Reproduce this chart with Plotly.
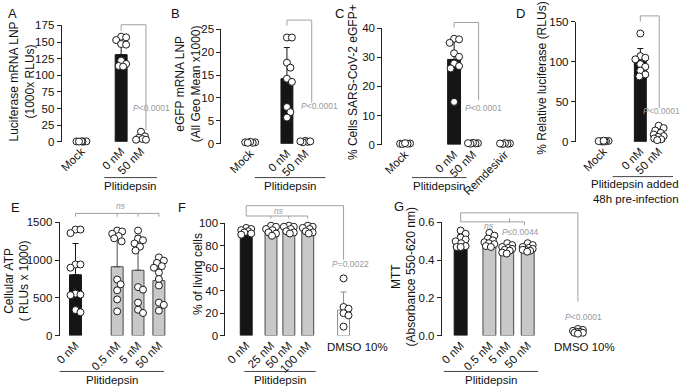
import plotly.graph_objects as go

W, H = 685, 392
FONT = "Liberation Sans, Arial, Helvetica, sans-serif"

# ---------------- DATA ----------------
# Panel A
A_labels = ["Mock", "0 nM", "50 nM"]
A_means = [0.4, 131, 6]
A_sd = [0, 18, 4]
A_mock = [0.3, 0.5, 0.2, 0.4, 0.6, 0.3]
A_0nM = [158, 157, 153, 147, 146, 122, 117, 114, 113]
A_50nM = [15, 8, 6, 4, 3, 3]

# Panel B
B_labels = ["Mock", "0 nM", "50 nM"]
B_means = [0.3, 14.2, 0.5]
B_sd = [0, 6.8, 0.2]
B_mock = [0.3, 0.2, 0.4, 0.3, 0.2]
B_0nM = [23.2, 23.2, 17.7, 16.6, 14.2, 13.5, 8.0, 6.9, 5.7]
B_50nM = [0.6, 0.4, 0.5, 0.3, 0.5]

# Panel C
C_labels = ["Mock", "0 nM", "50 nM", "Remdesivir"]
C_means = [0.3, 29.3, 0.5, 0.4]
C_sd = [0, 6.5, 0.1, 0.1]
C_mock = [0.3, 0.4, 0.2, 0.3, 0.5]
C_0nM = [36.4, 36.2, 35.0, 31.4, 30.2, 27.9, 27.0, 26.2, 14.7]
C_50nM = [0.5, 0.4, 0.6, 0.3, 0.5]
C_remd = [0.4, 0.3, 0.5, 0.2, 0.4]

# Panel D
D_labels = ["Mock", "0 nM", "50 nM"]
D_means = [0.6, 100.8, 9.3]
D_sd = [0, 15.5, 5]
D_mock = [0.5, 1.0, 0.3, 0.8, 0.6, 0.4, 1.2]
D_0nM = [135, 106.8, 104.8, 102.8, 96.8, 93.5, 88.7, 83.9, 81.5]
D_50nM = [20, 17, 14, 11, 9, 7, 6, 4, 3, 2]

# Panel E
E_labels = ["0 nM", "0.5 nM", "5 nM", "50 nM"]
E_means = [806, 913, 866, 729]
E_sd = [415, 424, 463, 257]
E_0nM = [1406, 1406, 1359, 943, 943, 900, 557, 544, 536, 339, 309]
E_05nM = [1393, 1380, 1350, 1320, 1290, 1250, 743, 680, 600, 480, 321]
E_5nM = [1393, 1286, 1264, 1221, 1179, 1127, 643, 609, 437, 343, 300]
E_50nM = [1037, 994, 964, 921, 900, 836, 750, 664, 437, 407, 330]

# Panel F
F_labels = ["0 nM", "25 nM", "50 nM", "100 nM", ""]
F_means = [91, 93.5, 94.5, 94, 22.8]
F_sd = [2, 3, 3, 3, 16]
F_0nM = [96, 95, 94, 93, 92, 91, 90]
F_25nM = [98, 97, 95, 94, 92, 91, 89]
F_50nM = [98, 97, 97, 95, 93, 92, 91]
F_100nM = [98, 97, 96, 95, 93, 92, 91]
F_dmso = [51, 25.5, 24, 20, 18, 8]

# Panel G
G_labels = ["0 nM", "0.5 nM", "5 nM", "50 nM", ""]
G_means = [0.506, 0.50, 0.463, 0.458, 0.02]
G_sd = [0.03, 0.025, 0.02, 0.015, 0.008]
G_0nM = [0.557, 0.54, 0.52, 0.51, 0.50, 0.49, 0.475, 0.47, 0.47]
G_05nM = [0.545, 0.53, 0.515, 0.505, 0.495, 0.49, 0.485, 0.475, 0.47]
G_5nM = [0.49, 0.48, 0.47, 0.465, 0.46, 0.455, 0.45, 0.44, 0.435]
G_50nM = [0.49, 0.48, 0.47, 0.465, 0.46, 0.455, 0.455, 0.45, 0.445]
G_dmso = [0.035, 0.03, 0.025, 0.02, 0.02, 0.015, 0.015, 0.01]

# ---------------- LAYOUT SPECS (pixels) ----------------
STYLES = {
    "k": ("#151515", "#151515", "#151515"),
    "g": ("#c8c8c8", "#4a4a4a", "#4a4a4a"),
    "w": ("#ffffff", "#8a8a8a", "#8a8a8a"),
}

panels = [
    dict(letter="A", lx=8, ly=8, ax=57, right=160, y0=140, ytop=20, ymax=175, dtick=25, fmt="d",
         pos0=77, ppu=20, pos=[0, 2, 3], bw=12,
         labels=A_labels, means=A_means, sd=A_sd, pts=[A_mock, A_0nM, A_50nM], st="kkk",
         ytitle="Luciferase mRNA LNP<br>(1000x RLUs)", tx=17, ty=78),
    dict(letter="B", lx=172, ly=8, ax=218, right=330, y0=142, ytop=24, ymax=25, dtick=5, fmt="d",
         pos0=247, ppu=18.5, pos=[0, 2, 3], bw=12,
         labels=B_labels, means=B_means, sd=B_sd, pts=[B_mock, B_0nM, B_50nM], st="kkk",
         ytitle="eGFP mRNA LNP<br>(All Geo Mean x1000)", tx=184, ty=80),
    dict(letter="C", lx=337, ly=8, ax=380, right=520, y0=143, ytop=23, ymax=40, dtick=10, fmt="d",
         pos0=403, ppu=19, pos=[0, 2.6, 3.6, 5.3], bw=13,
         labels=C_labels, means=C_means, sd=C_sd, pts=[C_mock, C_0nM, C_50nM, C_remd], st="kkkk",
         ytitle="% Cells SARS-CoV-2 eGFP+", tx=350, ty=78),
    dict(letter="D", lx=519, ly=8, ax=575, right=683, y0=140, ytop=16, ymax=150, dtick=50, fmt="d",
         pos0=603, ppu=18.5, pos=[0, 2, 3], bw=12,
         labels=D_labels, means=D_means, sd=D_sd, pts=[D_mock, D_0nM, D_50nM], st="kkk",
         ytitle="% Relative luciferase (RLUs)", tx=541, ty=75),
    dict(letter="E", lx=11, ly=208, ax=55, right=168, y0=340, ytop=223.3, ymax=1500, dtick=500, fmt="d",
         pos0=71, ppu=21, pos=[0, 2, 3, 4], bw=12,
         labels=E_labels, means=E_means, sd=E_sd, pts=[E_0nM, E_05nM, E_5nM, E_50nM], st="kggg",
         ytitle="Cellular ATP<br>( RLUs x 1000)", tx=12, ty=283),
    dict(letter="F", lx=178, ly=208, ax=222, right=360, y0=340, ytop=224.3, ymax=100, dtick=20, fmt="d",
         pos0=243, ppu=18.5, pos=[0, 1.35, 2.32, 3.35, 5.3], bw=12,
         labels=F_labels, means=F_means, sd=F_sd, pts=[F_0nM, F_25nM, F_50nM, F_100nM, F_dmso], st="kgggw",
         ytitle="% of living cells", tx=194, ty=277),
    dict(letter="G", lx=397, ly=207, ax=440, right=605, y0=340, ytop=223.3, ymax=0.6, dtick=0.2, fmt=".1f",
         pos0=459, ppu=19.3, pos=[0, 1.5, 2.43, 3.5, 6.12], bw=13,
         labels=G_labels, means=G_means, sd=G_sd, pts=[G_0nM, G_05nM, G_5nM, G_50nM, G_dmso], st="kgggw",
         ytitle="MTT<br>(Absorbance 550-620 nm)", tx=402, ty=280),
]

# brackets: segments in (category position, value); texts (text, x, value, xanchor)
brackets = [
    dict(segs=[((2, 167), (2, 176)), ((2, 176), (3.25, 176)), ((3.25, 176), (3.25, 17))],
         texts=[("<i>P</i>&lt;0.0001", 3.55, 51, "center")]),
    dict(segs=[((2, 25.8), (2, 27)), ((2, 27), (3.35, 27)), ((3.35, 27), (3.35, 9))],
         texts=[("<i>P</i>&lt;0.0001", 3.75, 8.2, "center")]),
    dict(segs=[((2.6, 40.3), (2.6, 42)), ((2.6, 42), (3.9, 42)), ((3.9, 42), (3.9, 15.3))],
         texts=[("<i>P</i>&lt;0.0001", 4.15, 12.7, "center")]),
    dict(segs=[((2, 150), (2, 157)), ((2, 157), (3.03, 157)), ((3.03, 157), (3.03, 42))],
         texts=[("<i>P</i>&lt;0.0001", 4.25, 38.7, "right")]),
    dict(segs=[((0, 1620), (4, 1620)), ((0, 1620), (0, 1577)), ((2, 1620), (2, 1577)),
               ((3, 1620), (3, 1577)), ((4, 1620), (4, 1577))],
         texts=[("<i>ns</i>", 2.2, 1720, "center")]),
    dict(segs=[((0, 106.6), (0, 115.8)), ((0, 115.8), (5.3, 115.8)), ((5.3, 115.8), (5.3, 67.7)),
               ((0, 106.6), (3.35, 106.6)), ((1.35, 106.6), (1.35, 104.3)),
               ((2.32, 106.6), (2.32, 104.3)), ((3.35, 106.6), (3.35, 104.3))],
         texts=[("<i>ns</i>", 1.8, 111.3, "center"), ("<i>P</i>=0.0022", 5.7, 63.5, "center")]),
    dict(segs=[((0, 0.603), (0, 0.651)), ((0, 0.651), (6.12, 0.651)), ((6.12, 0.651), (6.12, 0.18)),
               ((0, 0.603), (3.33, 0.603)), ((3.33, 0.603), (3.33, 0.586)),
               ((2.55, 0.603), (2.55, 0.622))],
         texts=[("<i>ns</i>", 1.5, 0.58, "center"), ("<i>P</i>≤0.0044", 3.1, 0.552, "center"),
                ("<i>P</i>&lt;0.0001", 6.4, 0.1, "center")]),
]

# group underline (x in category units, y px) + label (x category units, y px, anchor)
groups = [
    (1.15, 3.8, 177, "Plitidepsin", 2.47, 186, "center"),
    (0.25, 4.1, 177, "Plitidepsin", 2.17, 186, "center"),
    (0.37, 3.26, 177, "Plitidepsin", 1.82, 186, "center"),
    (0.49, 3.78, 176, "Plitidepsin added<br>48h pre-infection", 4.2, 191, "right"),
    (-0.76, 4.24, 377, "Plitidepsin", 1.74, 386, "center"),
    (-0.1, 3.78, 377, "Plitidepsin", 1.84, 386, "center"),
    (-0.88, 4.04, 377, "Plitidepsin", 1.58, 386, "center"),
]

extra_labels = [("DMSO 10%", 355, 352), ("DMSO 10%", 584, 352)]


def swarm(vals, spy, ppu, d=6.0, maxoff=5.0):
    """Simple bounded beeswarm in pixel space; returns x offsets in category units."""
    placed = []
    res = [0.0] * len(vals)
    order = sorted(range(len(vals)), key=lambda i: -vals[i])
    cands = [0.0]
    k = 1
    while k * 0.5 <= maxoff:
        cands += [k * 0.5, -k * 0.5]
        k += 1
    for i in order:
        y = vals[i] * spy
        best, bestd = 0.0, -1
        chosen = None
        for c in cands:
            md = min([((c - px) ** 2 + (y - py) ** 2) ** 0.5 for px, py in placed] or [1e9])
            if md >= d:
                chosen = c
                break
            if md > bestd:
                best, bestd = c, md
        if chosen is None:
            chosen = best
        placed.append((chosen, y))
        res[i] = chosen / ppu
    return res


fig = go.Figure()
layout = dict(width=W, height=H, margin=dict(l=0, r=0, t=0, b=0),
              paper_bgcolor="white", plot_bgcolor="white", barmode="overlay",
              showlegend=False, font=dict(family=FONT, color="#111"))
shapes = []
annotations = []

for n, p in enumerate(panels, start=1):
    xa = "x" if n == 1 else f"x{n}"
    ya = "y" if n == 1 else f"y{n}"
    xr0 = (p["ax"] - p["pos0"]) / p["ppu"]
    xr1 = (p["right"] - p["pos0"]) / p["ppu"]
    spy = (p["y0"] - p["ytop"]) / p["ymax"]
    for pos, m, s, pts, st in zip(p["pos"], p["means"], p["sd"], p["pts"], p["st"]):
        fill, lc, ec = STYLES[st]
        fig.add_trace(go.Bar(
            x=[pos], y=[m], width=p["bw"] / p["ppu"], xaxis=xa, yaxis=ya,
            marker=dict(color=fill, line=dict(color=lc, width=1)),
            error_y=dict(type="data", array=[s], arrayminus=[0], symmetric=False,
                         color=ec, thickness=1, width=3),
            hoverinfo="skip"))
    for pos, pts in zip(p["pos"], p["pts"]):
        offs = swarm(pts, spy, p["ppu"])
        fig.add_trace(go.Scatter(
            x=[pos + o for o in offs], y=pts, mode="markers", xaxis=xa, yaxis=ya,
            cliponaxis=False,
            marker=dict(size=7, color="white", line=dict(color="#1a1a1a", width=1)),
            hoverinfo="skip"))

    tv = [pos for pos, lab in zip(p["pos"], p["labels"]) if lab]
    tt = [lab for lab in p["labels"] if lab]
    layout["xaxis" if n == 1 else f"xaxis{n}"] = dict(
        domain=[p["ax"] / W, p["right"] / W], range=[xr0, xr1], anchor=ya,
        showline=False, showgrid=False, zeroline=False, ticks="",
        tickmode="array", tickvals=tv, ticktext=tt, tickangle=-45,
        tickfont=dict(size=11.5, color="#111", family=FONT))
    nt = int(round(p["ymax"] / p["dtick"]))
    yt = [round(i * p["dtick"], 6) for i in range(nt + 1)]
    ytt = [format(v, p["fmt"]) if p["fmt"] != "d" else str(int(v)) for v in yt]
    layout["yaxis" if n == 1 else f"yaxis{n}"] = dict(
        domain=[1 - p["y0"] / H, 1 - p["ytop"] / H], range=[0, p["ymax"]], anchor=xa,
        showline=True, linecolor="#222", linewidth=1, ticks="outside", ticklen=4,
        tickwidth=1, tickcolor="#222", showgrid=False, zeroline=False,
        tickmode="array", tickvals=yt, ticktext=ytt,
        tickfont=dict(size=11.5, color="#111", family=FONT))

    def xd(x):
        return (x - xr0) / (xr1 - xr0)

    def yd(v):
        return v / p["ymax"]

    br = brackets[n - 1]
    for (x0, v0), (x1, v1) in br["segs"]:
        shapes.append(dict(type="line", xref=f"{xa} domain", yref=f"{ya} domain",
                           x0=xd(x0), y0=yd(v0), x1=xd(x1), y1=yd(v1),
                           line=dict(color="#a0a0a0", width=1)))
    for txt, x, v, anc in br["texts"]:
        annotations.append(dict(text=txt, xref=f"{xa} domain", yref=f"{ya} domain",
                                x=xd(x), y=yd(v), showarrow=False, xanchor=anc,
                                yanchor="middle", font=dict(size=8.5, color="#9a9a9a", family=FONT)))

    g0, g1, gy, gtxt, glx, gly, ganc = groups[n - 1]
    shapes.append(dict(type="line", xref=f"{xa} domain", yref="paper",
                       x0=xd(g0), x1=xd(g1), y0=1 - gy / H, y1=1 - gy / H,
                       line=dict(color="#444", width=1)))
    annotations.append(dict(text=gtxt, xref=f"{xa} domain", yref="paper",
                            x=xd(glx), y=1 - gly / H, align=ganc,
                            showarrow=False, xanchor=ganc, yanchor="middle",
                            font=dict(size=11.5, color="#111", family=FONT)))

    annotations.append(dict(text=p["ytitle"], xref="paper", yref="paper",
                            x=p["tx"] / W, y=1 - p["ty"] / H, textangle=-90,
                            showarrow=False, xanchor="center", yanchor="middle",
                            font=dict(size=12, color="#111", family=FONT)))
    annotations.append(dict(text=p["letter"], xref="paper", yref="paper",
                            x=p["lx"] / W, y=1 - p["ly"] / H, showarrow=False,
                            xanchor="center", yanchor="middle",
                            font=dict(size=13, color="#111", family=FONT)))

for txt, x, y in extra_labels:
    annotations.append(dict(text=txt, xref="paper", yref="paper", x=x / W, y=1 - y / H,
                            showarrow=False, xanchor="center", yanchor="middle",
                            font=dict(size=11.5, color="#111", family=FONT)))

layout["shapes"] = shapes
layout["annotations"] = annotations
fig.update_layout(**layout)
fig.write_html("out.html",
               config={"displayModeBar": False, "staticPlot": True},
               post_script="document.body.style.margin='0';document.body.style.padding='0';")
